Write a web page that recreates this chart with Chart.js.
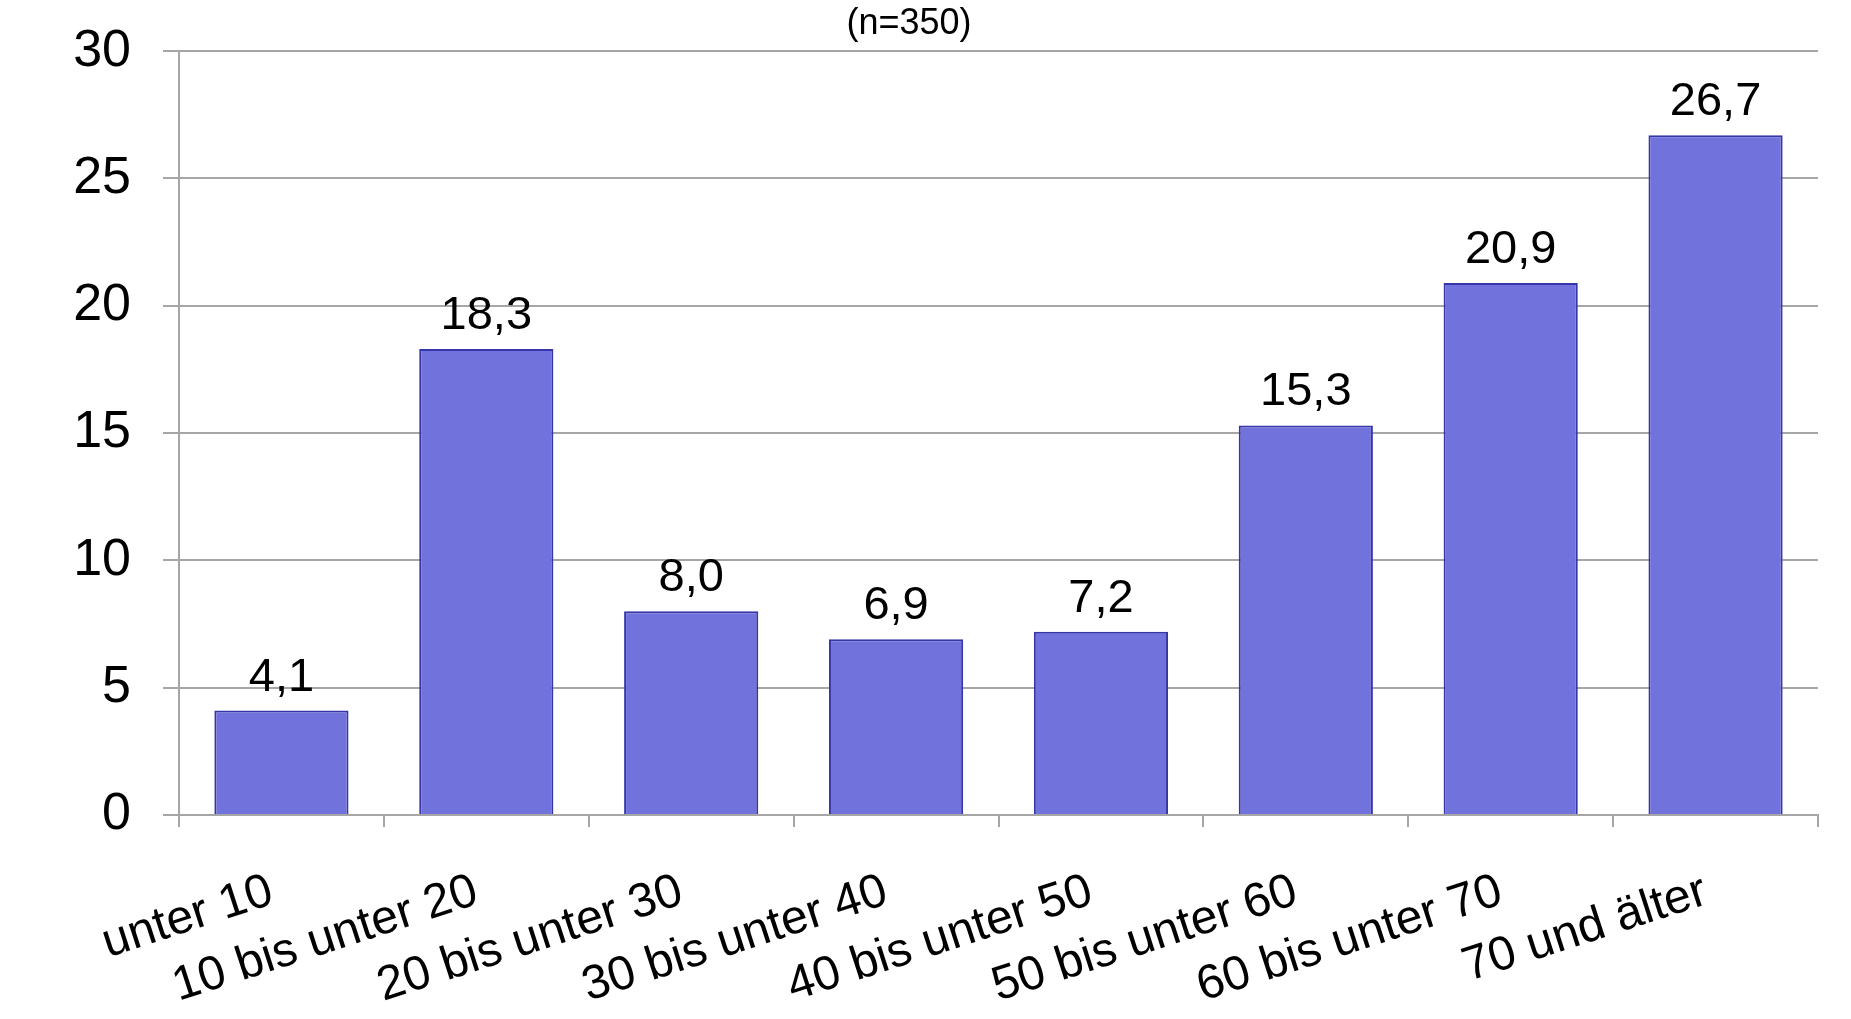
<!DOCTYPE html>
<html>
<head>
<meta charset="utf-8">
<script src="https://cdn.jsdelivr.net/npm/chart.js@4"></script>
<style>
html,body{margin:0;padding:0;background:#fff;}
#wrap{width:1851px;height:1019px;position:relative;}
</style>
</head>
<body>
<div id="wrap"><canvas id="c" width="1851" height="1019"></canvas></div>
<script>
const categories = ["unter 10","10 bis unter 20","20 bis unter 30","30 bis unter 40","40 bis unter 50","50 bis unter 60","60 bis unter 70","70 und älter"];
const values = [4.1, 18.3, 8.0, 6.9, 7.2, 15.3, 20.9, 26.7];
const yTicks = [0, 5, 10, 15, 20, 25, 30];
const subtitleText = "(n=350)";

const FONT = "'Liberation Sans', Arial, sans-serif";
const GRID = '#a6a6a6';

const valueLabels = {
  id: 'valueLabels',
  afterDatasetsDraw(chart) {
    const ctx = chart.ctx;
    const meta = chart.getDatasetMeta(0);
    ctx.save();
    ctx.font = '47px ' + FONT;
    ctx.fillStyle = '#000';
    ctx.textAlign = 'center';
    ctx.textBaseline = 'alphabetic';
    meta.data.forEach((bar, i) => {
      const txt = values[i].toFixed(1).replace('.', ',');
      ctx.fillText(txt, bar.x, bar.y - 20);
    });
    ctx.restore();
  }
};

new Chart(document.getElementById('c'), {
  type: 'bar',
  data: {
    labels: categories,
    datasets: [{
      data: values,
      backgroundColor: '#7272dd',
      borderColor: '#3636a8',
      borderWidth: 2,
      categoryPercentage: 1.0,
      barPercentage: 0.655
    }]
  },
  options: {
    responsive: false,
    animation: false,
    layout: { padding: { left: 0, right: 33, top: 0, bottom: 0 } },
    plugins: {
      legend: { display: false },
      tooltip: { enabled: false },
      title: { display: false },
      subtitle: {
        display: true,
        text: subtitleText,
        color: '#000',
        font: { family: FONT, size: 36, weight: 'normal', lineHeight: 1.2 },
        padding: { top: 2, bottom: 6 }
      }
    },
    scales: {
      x: {
        offset: true,
        grid: { display: true, drawOnChartArea: false, drawTicks: true, tickLength: 12, color: GRID, lineWidth: 2, offset: true },
        border: { display: true, color: GRID, width: 2 },
        ticks: {
          color: '#000',
          font: { family: FONT, size: 48 },
          minRotation: 18, maxRotation: 18,
          autoSkip: false,
          padding: 36,
          labelOffset: -10
        },
        afterFit(scale) { scale.height = 204; }
      },
      y: {
        min: 0, max: 30,
        afterBuildTicks(scale) { scale.ticks = yTicks.map(v => ({ value: v })); },
        grid: { color: GRID, lineWidth: 2, tickLength: 16, drawTicks: true },
        border: { display: true, color: GRID, width: 2 },
        ticks: {
          color: '#000',
          font: { family: FONT, size: 52 },
          padding: 32
        },
        afterFit(scale) { scale.width = 179; scale.paddingTop = 0; scale.paddingBottom = 0; }
      }
    }
  },
  plugins: [valueLabels]
});
</script>
</body>
</html>
